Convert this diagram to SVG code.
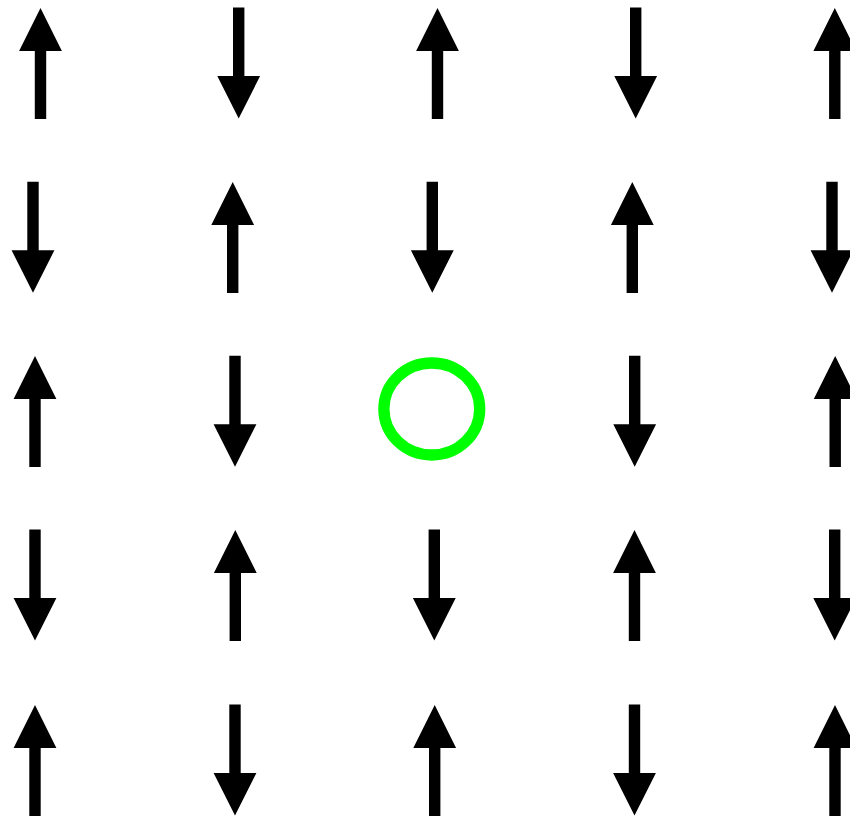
<svg xmlns="http://www.w3.org/2000/svg" xmlns:xlink="http://www.w3.org/1999/xlink" width="850" height="817" viewBox="0 0 850 817">
  <defs>
    <style>
      .arrow { fill: #000000; stroke: none; }
      .site { fill: none; stroke: #00ff00; stroke-width: 11.3; }
    </style>
    <path id="up" class="arrow" d="M0,0 L21.4,43 L5.7,43 L5.7,111 L-5.7,111 L-5.7,43 L-21.4,43 Z"/>
    <path id="down" class="arrow" d="M-5.7,0 L5.7,0 L5.7,68.5 L21.4,68.5 L0,111 L-21.4,68.5 L-5.7,68.5 Z"/>
  </defs>
  <rect width="850" height="817" fill="#ffffff"/>
  <g id="connectors"></g>
  <!-- Row 0 -->
  <g id="r0c0"><use xlink:href="#up" href="#up" x="40.5" y="8"/></g>
  <g id="r0c1"><use xlink:href="#down" href="#down" x="238.7" y="7.5"/></g>
  <g id="r0c2"><use xlink:href="#up" href="#up" x="437.5" y="8"/></g>
  <g id="r0c3"><use xlink:href="#down" href="#down" x="635.7" y="7.5"/></g>
  <g id="r0c4"><use xlink:href="#up" href="#up" x="834.8" y="8"/></g>
  <!-- Row 1 -->
  <g id="r1c0"><use xlink:href="#down" href="#down" x="33" y="181.8"/></g>
  <g id="r1c1"><use xlink:href="#up" href="#up" x="232.7" y="182"/></g>
  <g id="r1c2"><use xlink:href="#down" href="#down" x="432.3" y="181.8"/></g>
  <g id="r1c3"><use xlink:href="#up" href="#up" x="632.3" y="182"/></g>
  <g id="r1c4"><use xlink:href="#down" href="#down" x="832" y="181.8"/></g>
  <!-- Row 2 -->
  <g id="r2c0"><use xlink:href="#up" href="#up" x="35" y="356"/></g>
  <g id="r2c1"><use xlink:href="#down" href="#down" x="235" y="355.8"/></g>
  <g id="r2c2"><ellipse class="site" cx="431.8" cy="409" rx="47.9" ry="46"/></g>
  <g id="r2c3"><use xlink:href="#down" href="#down" x="634.7" y="355.8"/></g>
  <g id="r2c4"><use xlink:href="#up" href="#up" x="835.2" y="356"/></g>
  <!-- Row 3 -->
  <g id="r3c0"><use xlink:href="#down" href="#down" x="35" y="529.6"/></g>
  <g id="r3c1"><use xlink:href="#up" href="#up" x="235.3" y="530"/></g>
  <g id="r3c2"><use xlink:href="#down" href="#down" x="434.3" y="529.6"/></g>
  <g id="r3c3"><use xlink:href="#up" href="#up" x="634.5" y="530"/></g>
  <g id="r3c4"><use xlink:href="#down" href="#down" x="834.7" y="529.6"/></g>
  <!-- Row 4 -->
  <g id="r4c0"><use xlink:href="#up" href="#up" x="35" y="705"/></g>
  <g id="r4c1"><use xlink:href="#down" href="#down" x="235" y="704.5"/></g>
  <g id="r4c2"><use xlink:href="#up" href="#up" x="434.7" y="705"/></g>
  <g id="r4c3"><use xlink:href="#down" href="#down" x="634.5" y="704.5"/></g>
  <g id="r4c4"><use xlink:href="#up" href="#up" x="835" y="705"/></g>
</svg>
